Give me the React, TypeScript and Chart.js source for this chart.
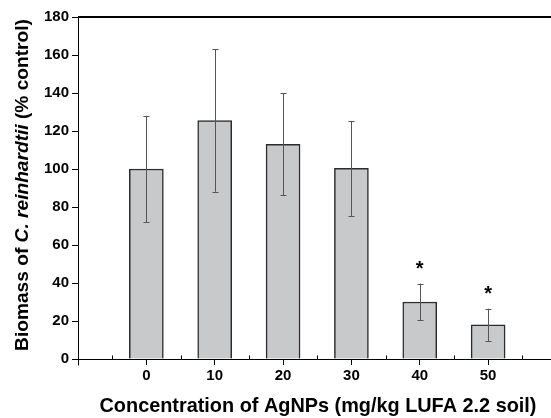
import React, { useEffect, useRef } from "react";
import { Chart, registerables } from "chart.js";

Chart.register(...registerables);

const categories = [0, 10, 20, 30, 40, 50];
const means = [100, 125.5, 113, 100.3, 30, 18];
const sd = [28, 37.5, 26.8, 25, 9.7, 8.5];
const starValues = [null, null, null, null, 49.5, 36.3];
const minorTicks = [-5, 5, 15, 25, 35, 45, 55];
const yTitleParts = [
  { text: "Biomass of ", italic: false },
  { text: "C. reinhardtii", italic: true },
  { text: " (% control)", italic: false },
];
const xTitle = "Concentration of AgNPs (mg/kg LUFA 2.2 soil)";

const FAMILY = "'Liberation Sans', Arial, sans-serif";

const overlay = {
  id: "overlay",
  afterDatasetsDraw(chart: any) {
    const ctx = chart.ctx;
    const xs = chart.scales.x;
    const ys = chart.scales.y;
    const area = chart.chartArea;
    ctx.save();
    // error bars
    ctx.strokeStyle = "#555";
    ctx.lineWidth = 1;
    categories.forEach((c, i) => {
      const x = Math.round(xs.getPixelForValue(c)) + 0.5;
      const yt = ys.getPixelForValue(means[i] + sd[i]);
      const yb = ys.getPixelForValue(means[i] - sd[i]);
      ctx.beginPath();
      ctx.moveTo(x, yt);
      ctx.lineTo(x, yb);
      ctx.moveTo(x - 3, Math.round(yt) + 0.5);
      ctx.lineTo(x + 3, Math.round(yt) + 0.5);
      ctx.moveTo(x - 3, Math.round(yb) + 0.5);
      ctx.lineTo(x + 3, Math.round(yb) + 0.5);
      ctx.stroke();
    });
    // stars
    ctx.fillStyle = "#000";
    ctx.font = `bold 20px ${FAMILY}`;
    ctx.textAlign = "center";
    ctx.textBaseline = "alphabetic";
    categories.forEach((c, i) => {
      const v = starValues[i];
      if (v == null) return;
      const m = ctx.measureText("*");
      const x = xs.getPixelForValue(c);
      const y = ys.getPixelForValue(v);
      ctx.fillText("*", x, y + (m.actualBoundingBoxAscent - m.actualBoundingBoxDescent) / 2);
    });
    // top frame line
    ctx.strokeStyle = "#000";
    ctx.lineWidth = 2;
    ctx.beginPath();
    ctx.moveTo(area.left, area.top);
    ctx.lineTo(area.right, area.top);
    ctx.stroke();
    // minor ticks (pointing up into the plot)
    ctx.lineWidth = 1;
    ctx.beginPath();
    const yAxis = Math.round(area.bottom) + 0.5;
    minorTicks.forEach((v) => {
      const x = Math.round(xs.getPixelForValue(v)) + 0.5;
      ctx.moveTo(x, yAxis);
      ctx.lineTo(x, yAxis - 4);
    });
    const x0 = Math.round(xs.getPixelForValue(xs.min)) + 0.5;
    ctx.moveTo(x0, yAxis);
    ctx.lineTo(x0, yAxis + 6);
    ctx.stroke();
    // y title, fitted to its span in the reference
    ctx.save();
    ctx.translate(28, 185);
    ctx.rotate(-Math.PI / 2);
    ctx.textBaseline = "alphabetic";
    ctx.textAlign = "left";
    const fontFor = (it: boolean, size: number) => `${it ? "italic " : ""}bold ${size}px ${FAMILY}`;
    const widthAt = (size: number) => {
      let t = 0;
      yTitleParts.forEach((p) => {
        ctx.font = fontFor(p.italic, size);
        t += ctx.measureText(p.text).width;
      });
      return t;
    };
    const ySize = (10 * 332) / widthAt(10);
    const total = widthAt(ySize);
    let cx = -total / 2;
    yTitleParts.forEach((p) => {
      ctx.font = fontFor(p.italic, ySize);
      ctx.fillText(p.text, cx, 0);
      cx += ctx.measureText(p.text).width;
    });
    ctx.restore();
    // x title, fitted
    ctx.font = `bold 10px ${FAMILY}`;
    const xSize = (10 * 437) / ctx.measureText(xTitle).width;
    ctx.font = `bold ${xSize}px ${FAMILY}`;
    ctx.textAlign = "center";
    ctx.textBaseline = "alphabetic";
    ctx.fillText(xTitle, 318, 412);
    ctx.restore();
  },
};

export default function App() {
  const ref = useRef<HTMLCanvasElement>(null);
  useEffect(() => {
    const font = { family: FAMILY, size: 15, weight: "bold" as const };
    const chart = new Chart(ref.current!, {
      type: "bar",
      data: {
        datasets: [
          {
            data: categories.map((c, i) => ({ x: c, y: means[i] })),
            backgroundColor: "#c8c9cb",
            borderColor: "#2b2b2b",
            borderWidth: 1.5,
            barThickness: 34,
          },
        ],
      },
      options: {
        responsive: false,
        animation: false,
        layout: { padding: { top: 17, right: 0, left: 0, bottom: 0 } },
        plugins: { legend: { display: false }, tooltip: { enabled: false } },
        scales: {
          x: {
            type: "linear",
            min: -10,
            max: 59.2,
            offset: false,
            afterBuildTicks: (s: any) => {
              s.ticks = categories.map((v) => ({ value: v }));
            },
            afterFit: (s: any) => {
              s.height = 59;
            },
            grid: { offset: false, drawOnChartArea: false, drawTicks: true, tickLength: 6, color: "#000" },
            border: { color: "#000", width: 1 },
            ticks: { font, color: "#000", padding: 2, maxRotation: 0, autoSkip: false },
          },
          y: {
            min: 0,
            max: 180,
            afterFit: (s: any) => {
              s.width = 78;
            },
            grid: { offset: false, drawOnChartArea: false, drawTicks: true, tickLength: 6, color: "#000" },
            border: { color: "#000", width: 1 },
            ticks: { font, color: "#000", padding: 3, stepSize: 20 },
          },
        },
      } as any,
      plugins: [overlay],
    });
    return () => chart.destroy();
  }, []);
  return (
    <div style={{ position: "fixed", left: 0, top: 0, width: 551, height: 418, background: "#fff" }}>
      <canvas ref={ref} width={551} height={418} style={{ display: "block" }} />
    </div>
  );
}
